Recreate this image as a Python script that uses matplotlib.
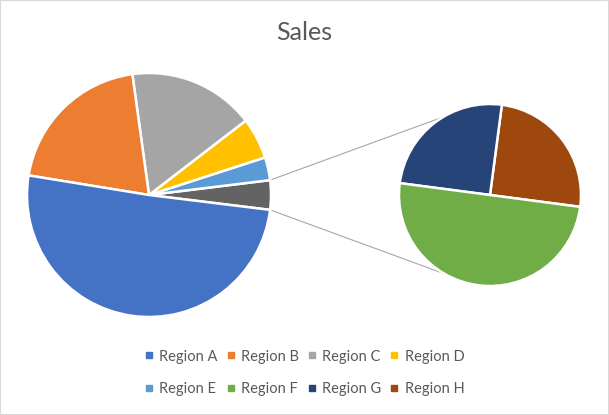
import matplotlib.pyplot as plt
import numpy as np
from matplotlib.lines import Line2D
from matplotlib.patches import Rectangle

regions = ["Region A", "Region B", "Region C", "Region D",
           "Region E", "Region F", "Region G", "Region H"]
sales = [1300, 520, 430, 140, 78, 50, 25, 25]
colors = ["#4472C4", "#ED7D31", "#A5A5A5", "#FFC000",
          "#5B9BD5", "#70AD47", "#264478", "#9E480E"]
other_color = "#636363"

plt.rcParams['font.family'] = ['Lato', 'DejaVu Sans']

fig = plt.figure(figsize=(6.09, 4.15), dpi=100)
ax = fig.add_axes([0, 0, 1, 1])

# first pie: A-E plus "other" (F+G+H), drawn counter clockwise from other
main_vals = sales[:5]
other = sum(sales[5:])
first = [other] + main_vals[::-1]
first_cols = [other_color] + colors[:5][::-1]
c1, r1 = (149, 220), 122
start1 = -other / sum(first) * 180
ax.pie(first, colors=first_cols, startangle=start1, counterclock=True,
       center=c1, radius=r1, frame=True,
       wedgeprops=dict(edgecolor='white', linewidth=1.8))

# second pie: F, G, H
second = [sales[7], sales[6], sales[5]]
second_cols = [colors[7], colors[6], colors[5]]
c2, r2 = (490, 220), 91
ax.pie(second, colors=second_cols, startangle=-7.5, counterclock=True,
       center=c2, radius=r2, frame=True,
       wedgeprops=dict(edgecolor='white', linewidth=1.8))
ax.set_xlim(0, 609)
ax.set_ylim(0, 415)
ax.set_aspect('equal')
ax.axis('off')

# connector lines
a_top = np.radians(-start1)
a_bot = np.radians(start1)
for a1, a2 in [(a_top, np.radians(121)), (a_bot, np.radians(240))]:
    ax.plot([c1[0] + r1 * np.cos(a1), c2[0] + r2 * np.cos(a2)],
            [c1[1] + r1 * np.sin(a1), c2[1] + r2 * np.sin(a2)],
            color='#A6A6A6', lw=0.8, zorder=0)

ax.text(304.5, 415 - 32, "Sales", ha='center', va='center',
        fontsize=18, color='#595959')

handles = [Line2D([], [], marker='s', linestyle='', markersize=5,
                  color=c) for c in colors]
order = [0, 4, 1, 5, 2, 6, 3, 7]
ax.legend([handles[i] for i in order], [regions[i] for i in order],
          ncol=4, loc='center', bbox_to_anchor=(0.5, (415 - 373) / 415),
          frameon=False, fontsize=10.5, labelcolor='#595959',
          handlelength=0.6, handletextpad=0.4, columnspacing=0.6,
          labelspacing=1.3)

fig.add_artist(Rectangle((0, 0), 1, 1, transform=fig.transFigure,
                         fill=False, edgecolor='#D9D9D9', lw=1.5))

fig.savefig("out.png", dpi=100)
